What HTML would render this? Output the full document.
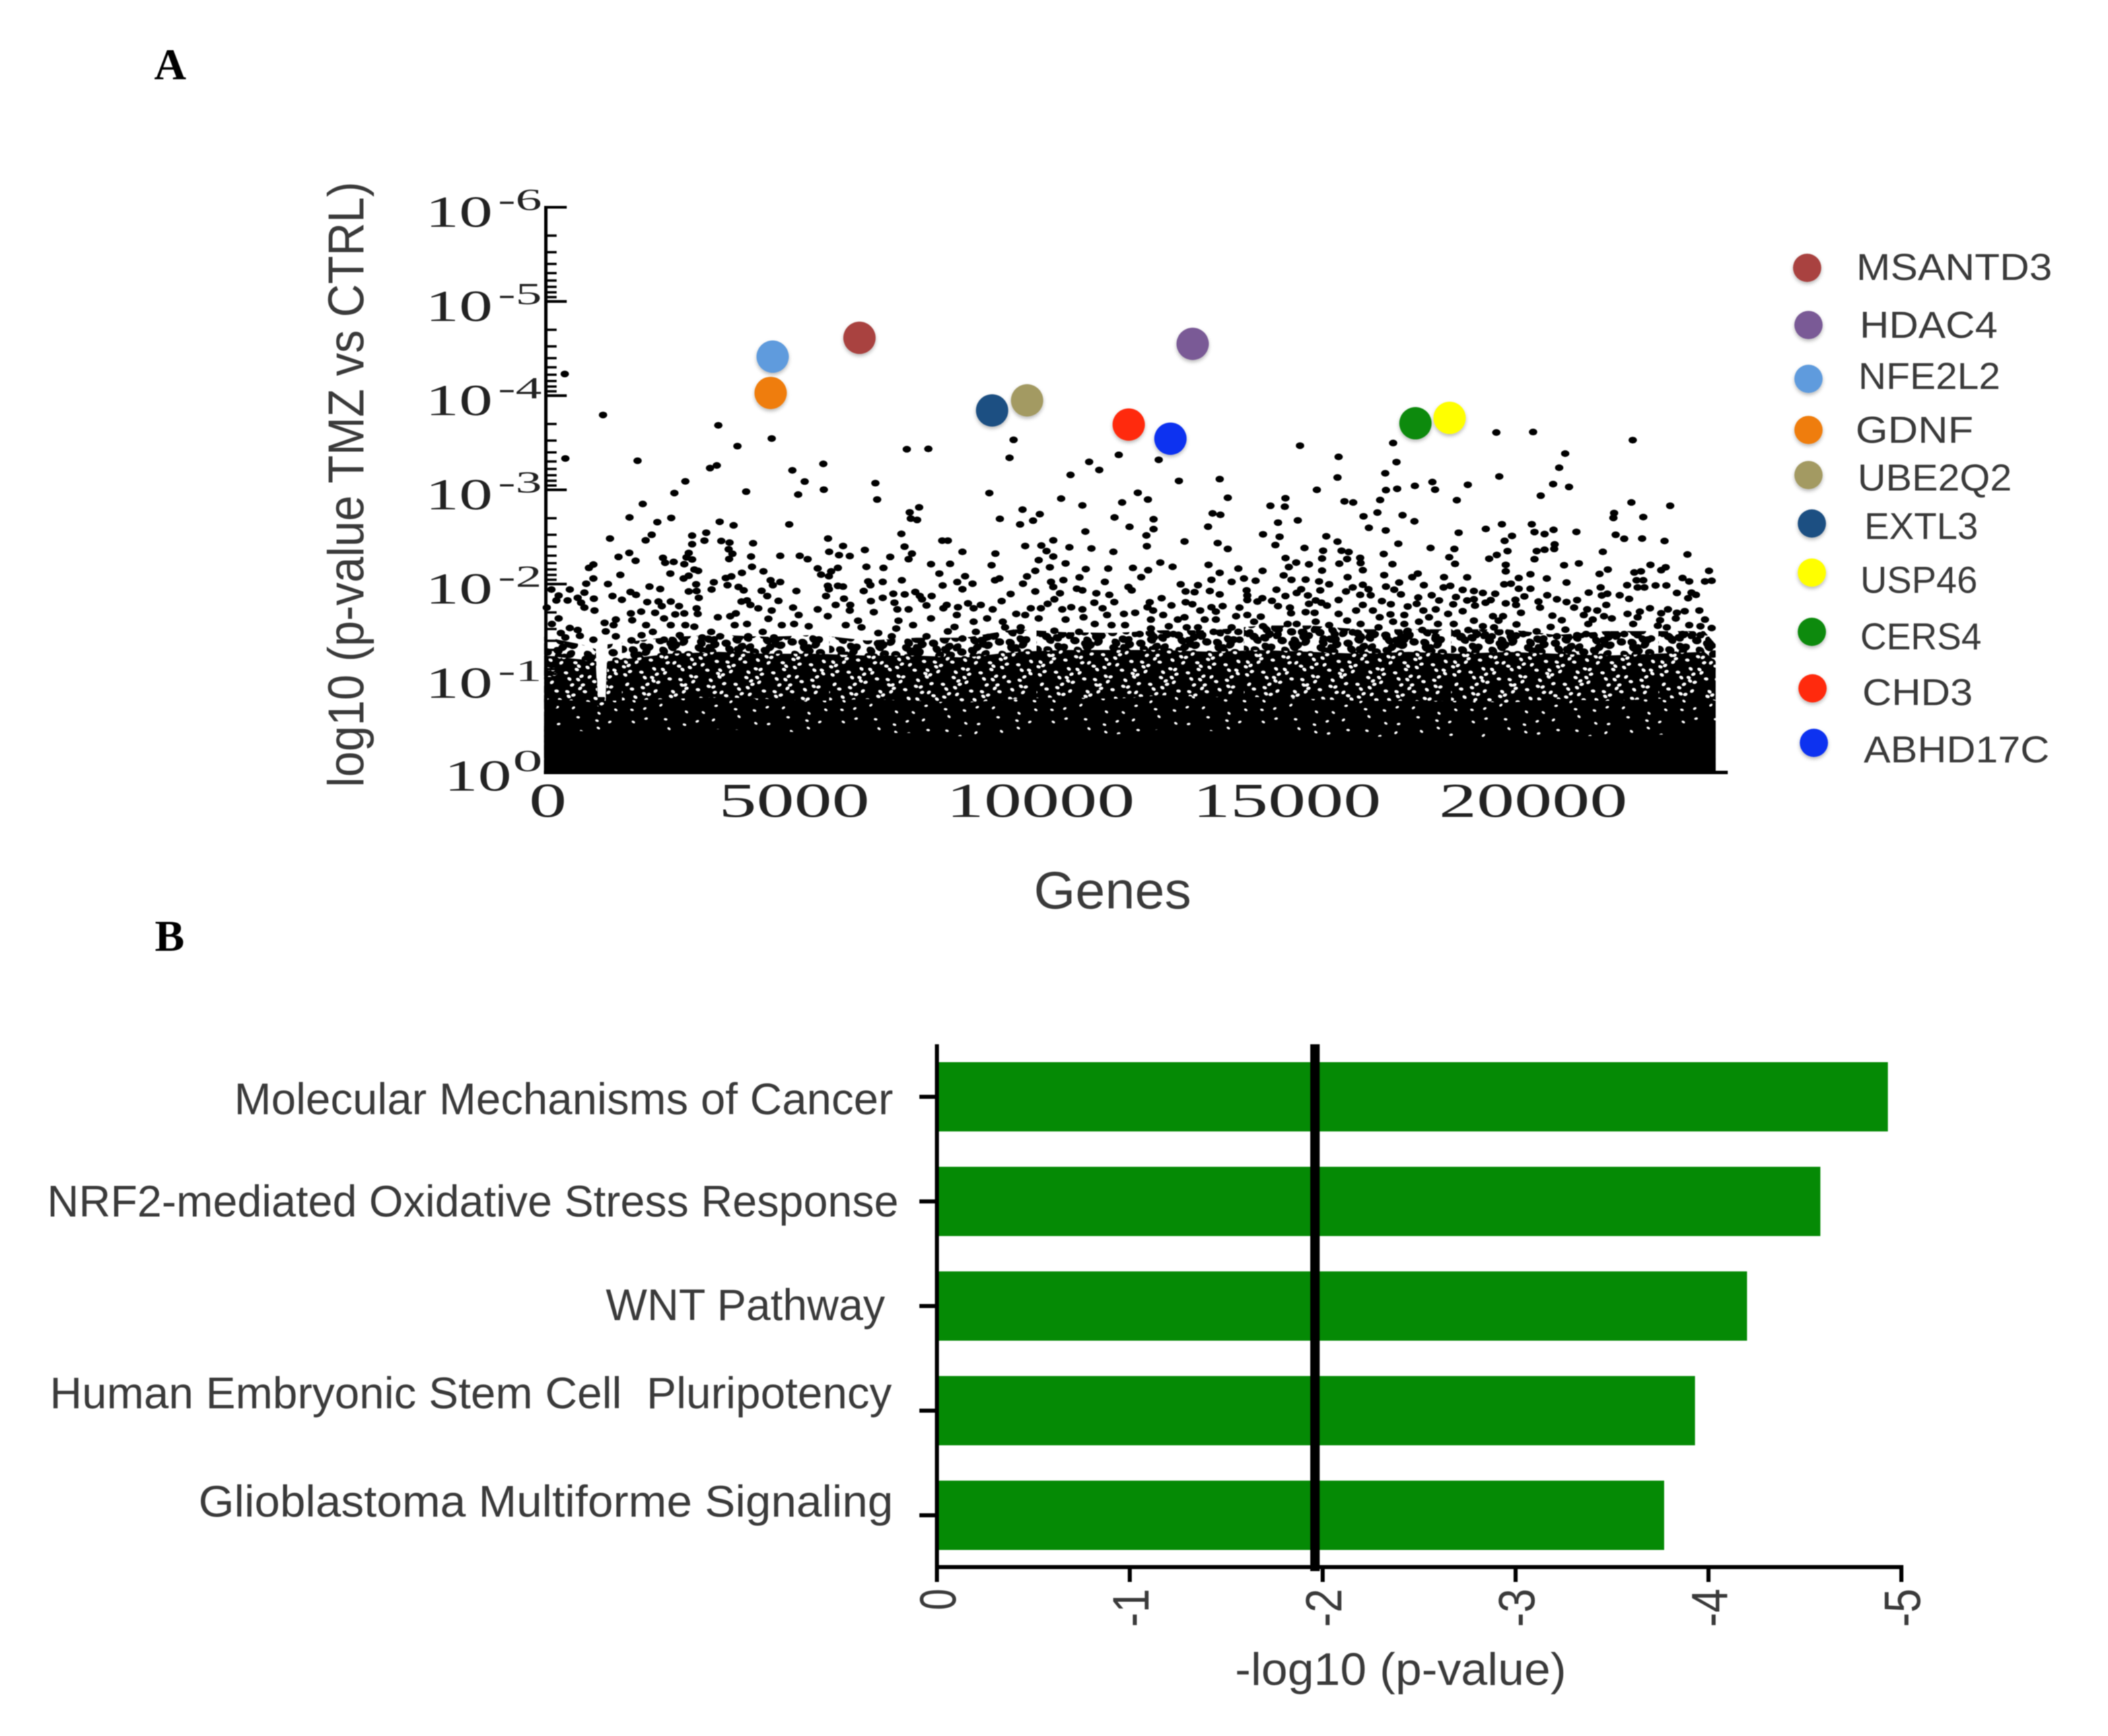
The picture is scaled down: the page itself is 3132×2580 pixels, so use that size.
<!DOCTYPE html>
<html lang="en">
<head>
<meta charset="utf-8">
<title>TMZ vs CTRL gene scatter and pathway bars</title>
<style>
html,body{margin:0;padding:0;background:#fff;}
body{width:3132px;height:2580px;overflow:hidden;}
svg{display:block;filter:blur(0.7px);}
.sans{font-family:"Liberation Sans",sans-serif;fill:#3a3a3a;}
.serif{font-family:"Liberation Serif",serif;fill:#222;}
</style>
</head>
<body>
<svg id="figure" xmlns="http://www.w3.org/2000/svg" width="3132" height="2580" viewBox="0 0 3132 2580">
  <defs>
    <filter id="soft" x="-40%" y="-40%" width="180%" height="180%">
      <feDropShadow dx="0" dy="3" stdDeviation="3" flood-color="#000" flood-opacity="0.28"/>
    </filter>
    <pattern id="stippleLoose" patternUnits="userSpaceOnUse" width="308" height="220"></pattern>
    <pattern id="stippleTight" patternUnits="userSpaceOnUse" width="308" height="220"></pattern>
    <pattern id="stippleFine" patternUnits="userSpaceOnUse" width="312" height="221"></pattern>
  </defs>

  <rect x="0" y="0" width="3132" height="2580" fill="#fff"/>
  <text x="229" y="118" font-family="'Liberation Serif',serif" font-weight="bold" font-size="66" fill="#000">A</text>
  <text x="230" y="1413" font-family="'Liberation Serif',serif" font-weight="bold" font-size="66" fill="#000">B</text>

  <g id="panel-a"></g>

  <text class="sans" transform="translate(540,1170) rotate(-90)" font-size="75" textLength="900" lengthAdjust="spacingAndGlyphs">log10 (p-value TMZ vs CTRL)</text>
  <text class="sans" x="1536" y="1350" font-size="78" textLength="234" lengthAdjust="spacingAndGlyphs">Genes</text>

  <g filter="none">
    <g filter="url(#soft)">
      <ellipse cx="2685" cy="398" rx="21" ry="21" fill="#a9423f"/>
      <ellipse cx="2687" cy="483" rx="21" ry="21" fill="#7a5a96"/>
      <ellipse cx="2687" cy="563" rx="21" ry="21" fill="#5f9bdd"/>
      <ellipse cx="2687" cy="639" rx="21" ry="21" fill="#ef7d0a"/>
      <ellipse cx="2687" cy="706" rx="21" ry="21" fill="#a39a62"/>
      <ellipse cx="2692" cy="778" rx="21" ry="21" fill="#1f4f82"/>
      <ellipse cx="2692" cy="851" rx="21" ry="21" fill="#ffff00"/>
      <ellipse cx="2692" cy="939" rx="21" ry="21" fill="#0a8a0a"/>
      <ellipse cx="2693" cy="1023" rx="21" ry="21" fill="#ff2a0a"/>
      <ellipse cx="2695" cy="1104" rx="21" ry="21" fill="#0a30f0"/>
    </g>
    <g class="sans" font-size="56">
      <text class="sans" x="2758" y="416" textLength="291" lengthAdjust="spacingAndGlyphs">MSANTD3</text>
      <text class="sans" x="2763" y="502" textLength="205" lengthAdjust="spacingAndGlyphs">HDAC4</text>
      <text class="sans" x="2761" y="578" textLength="211" lengthAdjust="spacingAndGlyphs">NFE2L2</text>
      <text class="sans" x="2757" y="658" textLength="175" lengthAdjust="spacingAndGlyphs">GDNF</text>
      <text class="sans" x="2760" y="729" textLength="229" lengthAdjust="spacingAndGlyphs">UBE2Q2</text>
      <text class="sans" x="2770" y="801" textLength="169" lengthAdjust="spacingAndGlyphs">EXTL3</text>
      <text class="sans" x="2764" y="881" textLength="174" lengthAdjust="spacingAndGlyphs">USP46</text>
      <text class="sans" x="2764" y="965" textLength="180" lengthAdjust="spacingAndGlyphs">CERS4</text>
      <text class="sans" x="2767" y="1048" textLength="164" lengthAdjust="spacingAndGlyphs">CHD3</text>
      <text class="sans" x="2769" y="1133" textLength="276" lengthAdjust="spacingAndGlyphs">ABHD17C</text>
    </g>
  </g>

  <g id="panel-b"></g>
  <text class="sans" x="1835" y="2504" font-size="68" textLength="492" lengthAdjust="spacingAndGlyphs">-log10 (p-value)</text>
</svg>

<script>
// ---- Panel A data (gene index, -log10 p) ----
const geneAxisTicks = [0, 5000, 10000, 15000, 20000];
const decadeExponents = [6, 5, 4, 3, 2, 1, 0];
const minorMultipliers = [2, 3, 4, 5, 6, 7, 8, 9];

const highlightNames = ["MSANTD3","HDAC4","NFE2L2","GDNF","UBE2Q2","EXTL3","USP46","CERS4","CHD3","ABHD17C"];
const highlightGenes = [6352,13115,4590,4549,9754,9044,18330,17637,11817,12664];
const highlightLogP = [4.614,4.55,4.414,4.029,3.95,3.843,3.764,3.707,3.693,3.543];
const highlightColors = ["#a9423f","#7a5a96","#5f9bdd","#ef7d0a","#a39a62","#1f4f82","#ffff00","#0a8a0a","#ff2a0a","#0a30f0"];

const pointsGenes0to6000 = [[370,4.23],[1147,3.795],[382,3.333],[3487,3.685],[4571,3.545],[3875,3.464],[1848,3.309],[3456,3.259],[3319,3.231],[5618,3.276],[4990,3.207],[5240,3.088],[2818,3.09],[5108,2.95],[5628,3.002],[4052,2.981],[2595,2.966],[1953,2.85],[1685,2.707],[2531,2.702],[2249,2.657],[3515,2.661],[3797,2.623],[4926,2.633],[3242,2.545],[2135,2.523],[2012,2.464],[2955,2.514],[3205,2.461],[1288,2.483],[2955,2.423],[3547,2.457],[3715,2.44],[4193,2.433],[5714,2.483],[3697,2.369],[3774,2.321],[3706,2.266],[2887,2.33],[2841,2.283],[2955,2.261],[2796,2.211],[1680,2.331],[1461,2.288],[1808,2.247],[2363,2.278],[2408,2.226],[2581,2.235],[4152,2.292],[4744,2.299],[5140,2.299],[5300,2.264],[5737,2.342],[5937,2.307],[951,2.207],[860,2.171],[4170,2.183],[5504,2.166],[5778,2.135],[5914,2.171],[4403,2.135],[3966,2.119],[3000,2.154],[3078,2.14],[2513,2.111],[1498,2.097],[5573,2.1],[5732,2.083],[2887,2.088],[2782,2.059],[951,2.059],[3752,2.081],[3638,2.064],[4548,2.04],[4744,2.021],[3396,2.019],[3037,1.997],[1247,2],[806,2.004],[4594,1.988],[3674,1.988],[3897,1.969],[2090,1.973],[2308,1.947],[3351,1.942],[4002,1.933],[4366,1.928],[5072,1.926],[5709,1.981],[5732,1.945],[5914,1.981],[473,1.942],[100,1.942],[1703,1.916],[769,1.909],[1817,1.885],[2887,1.921],[3046,1.926],[3091,1.854],[246,1.878],[200,1.826],[428,1.826],[633,1.854],[701,1.802],[769,1.75],[961,1.845],[974,1.719],[1339,1.873],[1530,1.833],[2044,1.809],[2272,1.814],[2340,1.766],[2522,1.814],[2691,1.766],[3046,1.742],[4480,1.873],[4708,1.821],[5673,1.873],[5869,1.778],[3957,1.814],[4070,1.826],[4139,1.778],[4298,1.742],[4571,1.719],[5004,1.75],[5,1.75],[1921,1.707],[1712,1.688],[2204,1.695],[2613,1.678],[2796,1.688],[3069,1.683],[3843,1.688],[5504,1.731],[5118,1.671],[3478,1.647],[3729,1.659],[246,1.635],[1407,1.623],[1739,1.616],[2386,1.635],[4503,1.631],[5709,1.659],[1179,1.588],[1361,1.564],[109,1.576],[2021,1.564],[2522,1.564],[2818,1.564],[3000,1.547],[3820,1.564],[4070,1.576],[4776,1.564],[5322,1.552],[5026,1.576],[473,1.533],[633,1.512],[291,1.48],[1202,1.497],[2158,1.492],[3342,1.492],[4389,1.492],[382,1.433],[678,1.45],[1407,1.445],[1725,1.402],[951,1.409],[1930,1.457],[2386,1.409],[2704,1.457],[3160,1.433],[3524,1.445],[4093,1.445],[4617,1.433]];

const pointsGenes6000to12100 = [[9480,3.531],[9398,3.34],[7313,3.431],[7750,3.435],[11615,3.371],[11014,3.297],[11219,3.211],[10636,3.159],[6675,3.071],[6711,2.897],[8988,2.966],[10445,2.907],[12002,2.969],[11683,2.866],[10877,2.835],[7563,2.814],[7372,2.761],[7394,2.695],[7522,2.681],[9662,2.79],[10012,2.742],[9202,2.692],[9876,2.673],[9612,2.633],[11529,2.707],[11834,2.607],[10937,2.557],[7203,2.533],[10286,2.464],[8032,2.461],[8146,2.461],[6019,2.404],[6461,2.362],[7267,2.397],[9716,2.404],[10044,2.409],[10613,2.39],[11060,2.378],[10149,2.35],[11506,2.342],[8442,2.342],[9111,2.323],[7417,2.323],[6156,2.297],[6976,2.288],[10286,2.292],[7349,2.264],[9990,2.254],[7804,2.211],[8191,2.214],[10536,2.219],[9034,2.2],[6493,2.183],[6839,2.171],[10217,2.178],[9921,2.14],[10946,2.159],[11401,2.164],[11902,2.171],[7973,2.111],[8496,2.083],[9753,2.081],[10818,2.071],[12070,2.073],[9102,2.04],[9193,2.059],[6529,2.028],[6825,2.023],[7212,2.04],[8337,2.021],[8647,2.004],[9671,2.004],[10240,2.023],[10491,2.042],[11333,2.023],[8041,1.985],[6575,1.988],[6019,1.973],[10286,1.969],[11811,1.969],[6438,1.926],[8442,1.945],[10764,1.95],[10877,1.933],[7485,1.916],[9921,1.921],[11879,1.933],[7039,1.897],[7271,1.89],[7577,1.873],[7818,1.873],[9420,1.895],[10422,1.902],[11160,1.902],[11424,1.885],[6825,1.854],[6038,1.845],[7622,1.838],[10308,1.838],[6584,1.819],[9238,1.819],[11119,1.802],[11524,1.809],[7062,1.802],[6165,1.778],[7713,1.773],[8123,1.778],[8555,1.795],[8815,1.778],[10172,1.79],[8055,1.743],[8351,1.754],[8669,1.743],[9830,1.743],[10035,1.743],[10650,1.754],[10877,1.731],[11287,1.743],[9056,1.731],[7121,1.731],[7349,1.731],[6156,1.719],[6643,1.702],[10468,1.731],[8328,1.671],[9534,1.683],[11720,1.683],[11948,1.695],[11378,1.671],[9716,1.671],[7804,1.635],[10900,1.647],[7144,1.611],[8669,1.6],[8943,1.635],[9261,1.6],[9990,1.635],[10536,1.623],[6324,1.611],[6074,1.564],[7440,1.564],[8282,1.545],[11128,1.576],[11469,1.564],[11743,1.564],[7098,1.528],[6393,1.54],[9307,1.54],[9625,1.54],[8146,1.497],[8715,1.492],[10308,1.504],[10809,1.492],[6734,1.48],[7007,1.445],[7713,1.445],[8442,1.421],[8965,1.438],[12039,1.469]];

const pointsGenes12100to18300 = [[15294,3.469],[17184,3.497],[16077,3.35],[17252,3.295],[12426,3.319],[12836,3.095],[13664,3.114],[16055,3.131],[17024,3.176],[17981,3.083],[18035,3.002],[15636,3],[17038,2.997],[17266,3.011],[17625,3.042],[13828,2.916],[12207,2.897],[14998,2.911],[14985,2.821],[14693,2.831],[16196,2.878],[16373,2.866],[16920,2.892],[16865,2.759],[13519,2.75],[13678,2.735],[16583,2.719],[17375,2.731],[12321,2.688],[15249,2.676],[17616,2.666],[14848,2.652],[13428,2.609],[12321,2.583],[16692,2.597],[17034,2.569],[14543,2.528],[12176,2.516],[14880,2.502],[15827,2.507],[12950,2.452],[16055,2.45],[12185,2.402],[13623,2.435],[14794,2.414],[17289,2.428],[13828,2.373],[15385,2.383],[17944,2.383],[15763,2.354],[16137,2.354],[16282,2.34],[16993,2.319],[15741,2.271],[15000,2.276],[16515,2.278],[16250,2.266],[12458,2.228],[15217,2.228],[15476,2.209],[16091,2.216],[16524,2.223],[17170,2.211],[13437,2.204],[12708,2.183],[15067,2.181],[14042,2.164],[14534,2.14],[12212,2.147],[16569,2.147],[15741,2.143],[13664,2.119],[17002,2.095],[17685,2.111],[14962,2.092],[16260,2.073],[17571,2.073],[18217,2.073],[14156,2.059],[13496,2.045],[13906,2.023],[14393,2.035],[15121,2.045],[15408,2.047],[15681,2.028],[17307,2.016],[12872,1.997],[13223,1.988],[15886,1.997],[16569,1.992],[17808,1.988],[17038,1.973],[16364,1.964],[16683,1.945],[14816,1.94],[15317,1.945],[15704,1.933],[17206,1.94],[18208,1.964],[12972,1.921],[13154,1.914],[13464,1.926],[14211,1.933],[15226,1.905],[16228,1.921],[13664,1.89],[14224,1.879],[14998,1.873],[15454,1.879],[16515,1.885],[16729,1.881],[17343,1.89],[17967,1.881],[12485,1.85],[17694,1.857],[14529,1.85],[14224,1.831],[14429,1.814],[14725,1.821],[15613,1.826],[16077,1.831],[16956,1.819],[18117,1.826],[12244,1.807],[12972,1.807],[15476,1.79],[12685,1.773],[13109,1.786],[14848,1.766],[15727,1.802],[15841,1.771],[16569,1.778],[17138,1.786],[17480,1.762],[17662,1.79],[13496,1.754],[13724,1.766],[14065,1.75],[12198,1.754],[15090,1.75],[12312,1.719],[16433,1.719],[16774,1.719],[17798,1.719],[18049,1.731],[13268,1.719],[13587,1.707],[15112,1.69],[15408,1.702],[15590,1.695],[16077,1.683],[17130,1.678],[17411,1.671],[13997,1.659],[14224,1.671],[14498,1.654],[12517,1.671],[12950,1.647],[16911,1.647],[17912,1.647],[13587,1.623],[13359,1.623],[16250,1.612],[14361,1.6],[12267,1.623],[12813,1.623],[17184,1.6],[17708,1.6],[15613,1.6],[15044,1.576],[15226,1.576],[15886,1.564],[16524,1.576],[18094,1.576],[12631,1.552],[14543,1.552],[17411,1.576],[12267,1.528],[12995,1.54],[13906,1.54],[16888,1.54],[13223,1.54],[14862,1.516],[17480,1.504],[15363,1.492],[16364,1.488],[13541,1.492],[17776,1.512],[14042,1.492],[16000,1.469],[16729,1.469],[12722,1.469],[14361,1.445],[18049,1.445],[15772,1.421],[17050,1.433],[17411,1.409],[14065,1.409]];

const pointsGenes18300to23700 = [[19279,3.609],[20025,3.614],[22047,3.528],[20676,3.385],[20554,3.235],[19338,3.142],[18700,3.054],[20431,3.061],[20754,3.031],[20180,2.938],[18477,2.89],[22020,2.866],[22807,2.831],[21669,2.754],[21655,2.702],[22261,2.711],[19392,2.635],[19998,2.635],[19065,2.585],[20440,2.576],[18514,2.545],[20053,2.552],[20258,2.531],[20904,2.554],[21701,2.523],[19597,2.511],[21874,2.481],[22238,2.483],[22693,2.457],[19447,2.459],[20462,2.421],[20453,2.373],[18427,2.373],[20258,2.364],[20098,2.35],[19506,2.35],[21441,2.342],[23158,2.314],[19288,2.309],[18323,2.285],[19133,2.269],[20053,2.264],[20954,2.219],[18441,2.214],[19470,2.204],[20654,2.2],[22407,2.204],[22716,2.178],[22625,2.147],[21542,2.154],[23595,2.14],[19470,2.135],[22079,2.123],[22215,2.135],[21373,2.107],[19971,2.104],[18687,2.071],[19734,2.064],[20303,2.059],[23058,2.064],[22124,2.04],[22261,2.04],[23194,2.028],[23513,2.028],[23650,2.035],[20704,2.016],[19438,1.997],[19575,2.004],[21933,1.988],[22511,1.985],[22730,1.985],[18345,1.981],[22147,1.964],[22284,1.964],[19734,1.95],[19971,1.95],[21396,1.964],[18596,1.938],[18823,1.926],[19005,1.905],[21154,1.909],[22944,1.905],[23240,1.909],[19256,1.897],[21419,1.879],[21532,1.897],[21783,1.881],[20312,1.881],[19848,1.869],[18459,1.862],[23331,1.885],[23172,1.85],[21974,1.842],[20508,1.838],[20918,1.83],[18823,1.838],[18687,1.826],[19165,1.83],[19666,1.833],[20134,1.814],[20704,1.809],[19060,1.802],[19470,1.795],[18404,1.785],[18846,1.771],[19679,1.778],[21510,1.778],[20166,1.75],[20858,1.75],[22397,1.743],[21123,1.731],[18596,1.712],[21327,1.719],[22762,1.731],[23103,1.712],[23399,1.719],[22193,1.707],[19779,1.695],[22625,1.69],[22944,1.695],[21942,1.683],[18300,1.683],[21054,1.671],[20417,1.664],[21464,1.659],[19210,1.659],[19415,1.659],[21623,1.635],[22147,1.647],[21236,1.623],[22921,1.635],[20608,1.616],[18823,1.612],[19324,1.612],[22602,1.616],[23513,1.623],[18414,1.576],[21145,1.576],[19688,1.571],[22056,1.576],[23194,1.564],[19005,1.552],[19233,1.54],[22557,1.557],[20381,1.545],[22739,1.54],[23422,1.552],[23649,1.533],[20681,1.516],[18710,1.512],[20098,1.497],[21100,1.469],[22147,1.457],[23058,1.469],[23422,1.457],[19825,1.469],[19597,1.409],[20235,1.421],[20508,1.445],[21555,1.457],[21874,1.469],[22420,1.421],[18550,1.433],[22830,1.421],[20918,1.457],[19188,1.445]];

// Dense mass of ~24,000 overlapping points: upper envelope read per gene position
const massGenes = [-50,700,1000,1040,1200,1240,2500,3500,4500,5500,6500,7500,8500,9500,10500,11500,12500,13500,14500,15500,16500,17500,18500,19500,20500,21500,22500,23500,23730];
const stippleTopLogP = [1.44,1.36,1.31,0.80,0.80,1.36,1.44,1.46,1.44,1.46,1.40,1.43,1.43,1.52,1.49,1.48,1.51,1.51,1.56,1.56,1.52,1.52,1.52,1.52,1.46,1.50,1.50,1.50,1.36];
const tightTopLogP = [1.24,1.20,1.16,0.76,0.76,1.18,1.26,1.28,1.26,1.26,1.24,1.24,1.22,1.28,1.30,1.30,1.30,1.28,1.30,1.28,1.26,1.28,1.26,1.28,1.26,1.24,1.26,1.28,1.18];
const fineTopLogP = [0.78,0.76,0.74,0.70,0.70,0.76,0.78,0.80,0.78,0.76,0.78,0.76,0.74,0.78,0.80,0.78,0.82,0.80,0.80,0.78,0.76,0.76,0.76,0.74,0.78,0.76,0.78,0.80,0.76];
const solidTopLogP = [0.46,0.44,0.42,0.40,0.40,0.44,0.44,0.46,0.44,0.42,0.42,0.42,0.38,0.42,0.42,0.40,0.46,0.44,0.42,0.40,0.38,0.38,0.38,0.36,0.40,0.38,0.40,0.42,0.42];

// ---- Panel B data ----
const pathwayNames = ["Molecular Mechanisms of Cancer","NRF2-mediated Oxidative Stress Response","WNT Pathway","Human Embryonic Stem Cell\u00A0 Pluripotency","Glioblastoma Multiforme Signaling"];
const pathwayValues = [4.93,4.58,4.20,3.93,3.77];
const thresholdValue = 1.96;
const barTickLabels = ["0","-1","-2","-3","-4","-5"];
const barTickValues = [0,1,2,3,4,5];

// ---- Scales ----
const xGene = g => 812 + g * 0.0732;
const yLogP = v => 1148 - v * 140;
const xBar = v => 1392 + v * 286.6;
const yBar = i => 1630 + i * 155.5;

const NS = "http://www.w3.org/2000/svg";
function mk(parent, tag, attrs, text) {
  const el = document.createElementNS(NS, tag);
  for (const k in attrs) el.setAttribute(k, attrs[k]);
  if (text !== undefined) el.textContent = text;
  parent.appendChild(el);
  return el;
}

// Texture tiles for the over-plotted mass (not data; fixed offset cycles)
const jitterCycleX = [-6, 3, -2, 6, -4, 1, 5];
const jitterCycleY = [2, -5, 4, -1, 6, -3, 0, 5, -6, 1, -2];
function fillTexture(id, bg, ink, stepX, stepY, rx, ry) {
  const pat = document.getElementById(id);
  const w = +pat.getAttribute("width");
  const h = +pat.getAttribute("height");
  if (bg) mk(pat, "rect", {width: w, height: h, fill: bg});
  let ix = 0;
  for (let px = 0; px < w; px += stepX, ix++) {
    let iy = 0;
    for (let py = 0; py < h; py += stepY, iy++) {
      const jx = jitterCycleX[(ix * 3 + iy * 5) % 7];
      const jy = jitterCycleY[(ix * 5 + iy * 2) % 11];
      mk(pat, "ellipse", {cx: px + jx, cy: py + jy, rx: rx, ry: ry, fill: ink, transform: "rotate(" + (jx * 6) + " " + (px + jx) + " " + (py + jy) + ")"});
    }
  }
}
fillTexture("stippleLoose", null, "#000", 14, 11, 7, 5.5);
fillTexture("stippleTight", "#000", "#fff", 14, 11, 3.4, 2.4);
fillTexture("stippleFine", "#000", "#fff", 26, 17, 2.8, 1.8);

// ---- Draw panel A ----
const a = document.getElementById("panel-a");

function massPath(tops) {
  let d = "M" + xGene(massGenes[0]) + " " + yLogP(-0.01);
  massGenes.forEach((g, i) => { d += " L" + xGene(g) + " " + yLogP(tops[i]); });
  d += " L" + xGene(massGenes[massGenes.length - 1]) + " " + yLogP(-0.01) + " Z";
  return d;
}
const bandLoose = mk(a, "path", {d: massPath(stippleTopLogP), fill: "url(#stippleLoose)"});


const bandTight = mk(a, "path", {d: massPath(tightTopLogP), fill: "url(#stippleTight)"});


const bandFine = mk(a, "path", {d: massPath(fineTopLogP), fill: "url(#stippleFine)"});


const bandSolid = mk(a, "path", {d: massPath(solidTopLogP), fill: "#000"});



const allPoints = [pointsGenes0to6000, pointsGenes6000to12100, pointsGenes12100to18300, pointsGenes18300to23700];
const pointLayer = mk(a, "g", {fill: "#000"});


allPoints.forEach(group => group.forEach(p => {
  const dot = mk(pointLayer, "ellipse", {cx: xGene(p[0]), cy: yLogP(p[1]), rx: 6.2, ry: 5});
  
  
}));

// y axis
const yAxis = mk(a, "line", {x1: 811, x2: 811, y1: yLogP(6) - 2, y2: yLogP(0) + 2, stroke: "#000", "stroke-width": 5});


const xAxis = mk(a, "line", {x1: 808, x2: 2567, y1: 1148, y2: 1148, stroke: "#000", "stroke-width": 5});



decadeExponents.forEach(n => {
  const py = yLogP(n);
  const major = mk(a, "line", {x1: 811, x2: 842, y1: py, y2: py, stroke: "#000", "stroke-width": 4});
  
  
  if (n > 0) {
    minorMultipliers.forEach(k => {
      const my = yLogP(n - Math.log10(k));
      const minor = mk(a, "line", {x1: 811, x2: 827, y1: my, y2: my, stroke: "#000", "stroke-width": 3.5});
      
      
    });
  }
  const isZero = n === 0;
  const base = mk(a, "text", {class: "serif", x: isZero ? 660 : 632, y: py + (isZero ? 27 : 29), "font-size": 66, textLength: 100, lengthAdjust: "spacingAndGlyphs"}, "10");
  
  
  const exp = mk(a, "text", {class: "serif", x: isZero ? 762 : 740, y: py + (isZero ? -2 : 4), "font-size": 46, textLength: isZero ? 44 : 65, lengthAdjust: "spacingAndGlyphs"}, isZero ? "0" : "-" + n);
  
  
});

geneAxisTicks.forEach(t => {
  const s = String(t);
  const w = s.length * 56;
  const lab = mk(a, "text", {class: "serif", x: xGene(t) - w / 2 + 2, y: 1214, "font-size": 72, textLength: w, lengthAdjust: "spacingAndGlyphs"}, s);
  
  
});

const hiLayer = mk(a, "g", {filter: "url(#soft)"});


highlightNames.forEach((name, i) => {
  const c = mk(hiLayer, "circle", {cx: xGene(highlightGenes[i]), cy: yLogP(highlightLogP[i]), r: 24, fill: highlightColors[i]});
  
  
});

// ---- Draw panel B ----
const b = document.getElementById("panel-b");
pathwayValues.forEach((v, i) => {
  const bar = mk(b, "rect", {x: xBar(0), y: yBar(i) - 51.5, width: xBar(v) - xBar(0), height: 103, fill: "#058a05"});
  
  
  const tick = mk(b, "line", {x1: 1366, x2: 1392, y1: yBar(i), y2: yBar(i), stroke: "#000", "stroke-width": 6});
  
  
});

const labelRight = [1327, 1335, 1315, 1325, 1327];
const labelBase = [1656, 1808, 1962, 2093, 2254];
const labelWidth = [979, 1265, 415, 1251, 1032];
pathwayNames.forEach((name, i) => {
  const t = mk(b, "text", {class: "sans", x: labelRight[i] - labelWidth[i], y: labelBase[i], "font-size": 66, textLength: labelWidth[i], lengthAdjust: "spacingAndGlyphs"}, name);
  
  
});

const barYAxis = mk(b, "line", {x1: 1392, x2: 1392, y1: 1552, y2: 2332, stroke: "#000", "stroke-width": 6});


const barXAxis = mk(b, "line", {x1: 1389, x2: xBar(5) + 3, y1: 2329, y2: 2329, stroke: "#000", "stroke-width": 6});



barTickValues.forEach((v, i) => {
  const tk = mk(b, "line", {x1: xBar(v), x2: xBar(v), y1: 2329, y2: 2351, stroke: "#000", "stroke-width": 6});
  
  
  const s = barTickLabels[i];
  const len = s.length === 1 ? 32 : 57;
  const lab = mk(b, "text", {class: "sans", transform: "translate(" + (xBar(v) + 28) + "," + (2361 + len) + ") rotate(-90)", "font-size": 76, textLength: len, lengthAdjust: "spacingAndGlyphs"}, s);
  
  
});

const refLine = mk(b, "line", {x1: xBar(thresholdValue), x2: xBar(thresholdValue), y1: 1552, y2: 2335, stroke: "#000", "stroke-width": 14});


</script>
</body>
</html>
